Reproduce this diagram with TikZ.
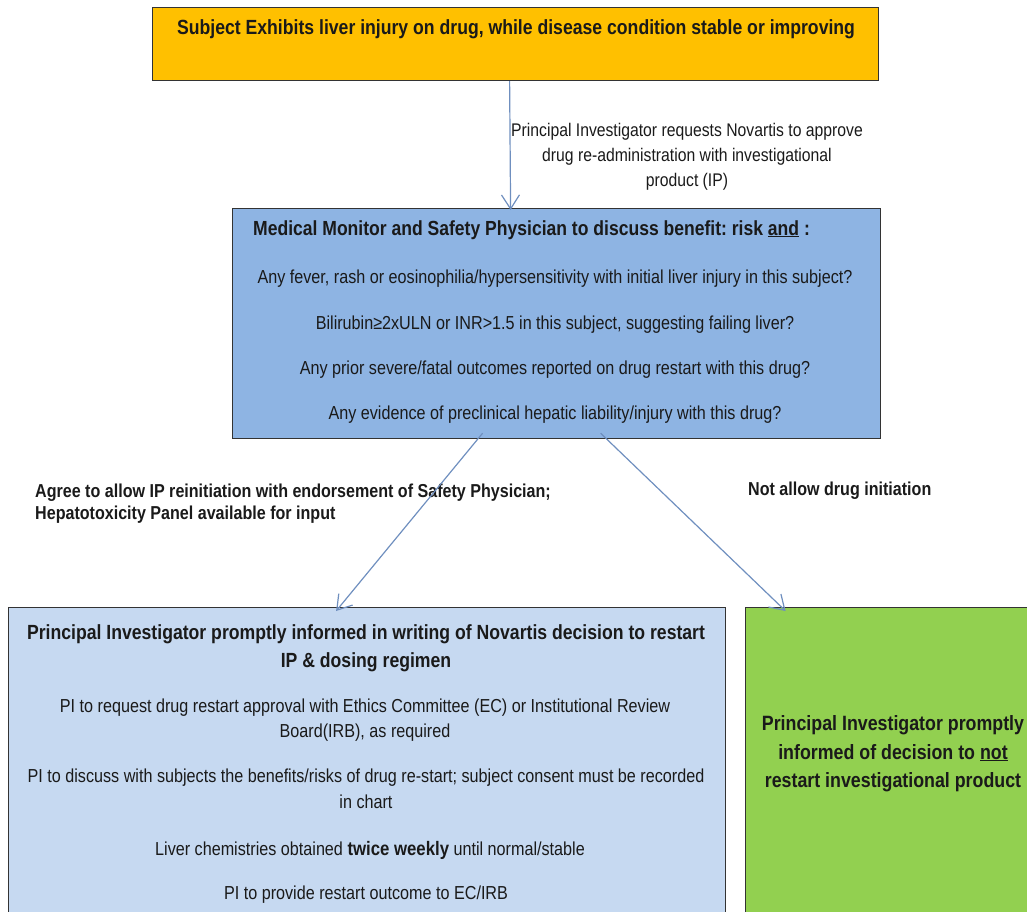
\documentclass[tikz,border=0pt]{standalone}
\usepackage{fontspec}
\setmainfont{Liberation Sans}[FakeStretch=0.86]
\usetikzlibrary{arrows.meta}
\frenchspacing
\definecolor{topfill}{HTML}{FFC000}
\definecolor{midfill}{HTML}{8EB4E3}
\definecolor{blfill}{HTML}{C6D9F1}
\definecolor{brfill}{HTML}{92D050}
\definecolor{boxline}{HTML}{333333}
\definecolor{arrowcol}{HTML}{6F8FBF}
\definecolor{txtcol}{HTML}{1A1A1A}
\tikzset{
  flowbox/.style={draw=boxline, line width=1.2pt, inner sep=0pt, anchor=north west},
  ttl/.style={inner sep=0pt, anchor=base, text=txtcol, font=\fontsize{20.5}{24}\selectfont\bfseries},
  itm/.style={inner sep=0pt, anchor=base, text=txtcol, font=\fontsize{18.8}{22}\selectfont},
  lbl/.style={inner sep=0pt, anchor=base, text=txtcol, font=\fontsize{18.3}{22}\selectfont},
  blbl/.style={inner sep=0pt, anchor=base west, text=txtcol, font=\fontsize{18.7}{22}\selectfont\bfseries},
  conn/.style={draw=arrowcol, line width=1.2pt, -{Straight Barb[length=14pt,width=18pt,line width=1.2pt]}}
}
\begin{document}
\begin{tikzpicture}[x=1pt,y=-1pt]
\useasboundingbox (0,0) rectangle (1027,911);
\clip (0,0) rectangle (1027,911);
% boxes
\node[flowbox, fill=topfill, minimum width=726pt, minimum height=73pt] (top) at (152,7) {};
\node[flowbox, fill=midfill, minimum width=648pt, minimum height=230pt] (mid) at (232,208) {};
\node[flowbox, fill=blfill, minimum width=717pt, minimum height=320pt] (bl) at (8,607) {};
\node[flowbox, fill=brfill, minimum width=290pt, minimum height=320pt] (br) at (745,607) {};
% top box text
\node[ttl] (t1) at (516,34) {Subject Exhibits liver injury on drug, while disease condition stable or improving};
% top label
\node[lbl] (l1) at (687,136) {Principal Investigator requests Novartis to approve};
\node[lbl] (l2) at (687,161) {drug re-administration with investigational};
\node[lbl] (l3) at (687,186) {product (IP)};
% middle box
\node[ttl, anchor=base west, font=\fontsize{20.4}{24}\selectfont\bfseries] (m0) at (253,235) {Medical Monitor and Safety Physician to discuss benefit: risk \underline{and} :};
\node[itm] (m1) at (555,283) {Any fever, rash or eosinophilia/hypersensitivity with initial liver injury in this subject?};
\node[itm] (m2) at (555,329) {Bilirubin≥2xULN or INR>1.5 in this subject, suggesting failing liver?};
\node[itm] (m3) at (555,374) {Any prior severe/fatal outcomes reported on drug restart with this drug?};
\node[itm] (m4) at (555,419) {Any evidence of preclinical hepatic liability/injury with this drug?};
% branch labels
\node[blbl] (a1) at (35,497) {Agree to allow IP reinitiation with endorsement of Safety Physician;};
\node[blbl] (a2) at (35,519) {Hepatotoxicity Panel available for input};
\node[blbl] (n1) at (748,495) {Not allow drug initiation};
% bottom left box
\node[ttl] (b1) at (366,639) {Principal Investigator promptly informed in writing of Novartis decision to restart};
\node[ttl] (b2) at (366,667) {IP \& dosing regimen};
\node[itm] (b3) at (365,712) {PI to request drug restart approval with Ethics Committee (EC) or Institutional Review};
\node[itm] (b4) at (365,737) {Board(IRB), as required};
\node[itm] (b5) at (366,782) {PI to discuss with subjects the benefits/risks of drug re-start; subject consent must be recorded};
\node[itm] (b6) at (366,808) {in chart};
\node[itm] (b7) at (370,855) {Liver chemistries obtained {\bfseries\fontsize{19.5}{22}\selectfont twice weekly} until normal/stable};
\node[itm] (b8) at (366,899) {PI to provide restart outcome to EC/IRB};
% bottom right box
\node[ttl, font=\fontsize{20.7}{24}\selectfont\bfseries] (g1) at (893,730) {Principal Investigator promptly};
\node[ttl, font=\fontsize{20.7}{24}\selectfont\bfseries] (g2) at (893,759) {informed of decision to \underline{not}};
\node[ttl, font=\fontsize{20.7}{24}\selectfont\bfseries] (g3) at (893,787) {restart investigational product};
% connectors
\draw[conn] ([xshift=-6pt]top.south) -- ([shift={(-46pt,-2pt)}]mid.north);
\draw[conn] ([shift={(-74pt,6pt)}]mid.south) -- ([shift={(-31pt,-4pt)}]bl.north);
\draw[conn] ([shift={(44pt,6pt)}]mid.south) -- ([shift={(-105pt,-4pt)}]br.north);
\end{tikzpicture}
\end{document}
